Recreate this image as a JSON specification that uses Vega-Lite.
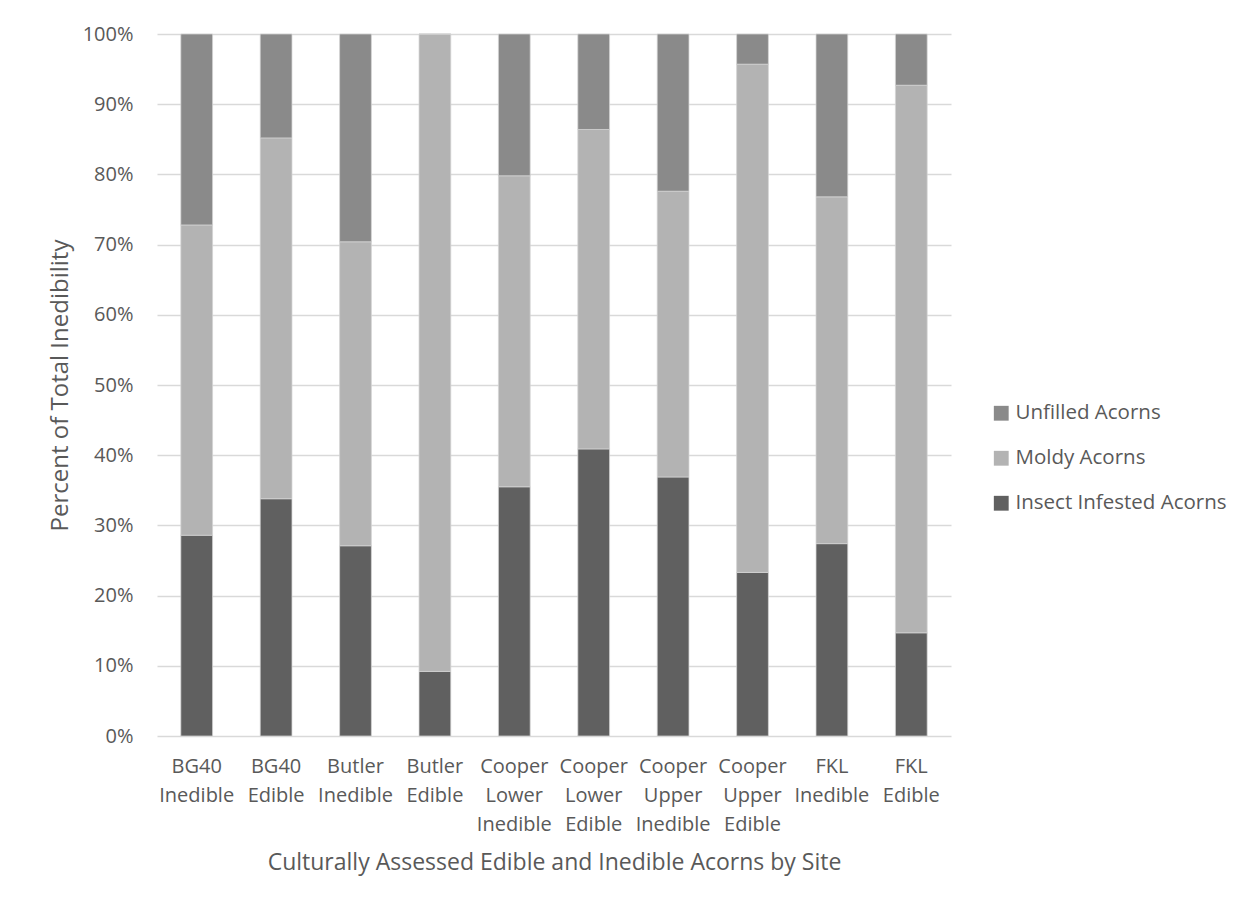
{
  "$schema": "https://vega.github.io/schema/vega-lite/v6.json",
  "autosize": {"type": "none"},
  "width": 794,
  "height": 702,
  "padding": {"left": 157, "top": 34, "right": 302, "bottom": 176},
  "background": "#ffffff",
  "config": {
    "font": "Open Sans",
    "view": {"stroke": null},
    "axis": {"labelFont": "Open Sans", "titleFont": "Open Sans", "labelColor": "#595959", "titleColor": "#595959", "titleFontWeight": "normal", "labelFontSize": 20, "titleFontSize": 23},
    "legend": {"labelFont": "Open Sans", "labelColor": "#595959", "labelFontSize": 20}
  },
  "data": {
    "values": [
      {"site": "BG40 Inedible", "type": "Insect Infested Acorns", "pct": 28.6},
      {"site": "BG40 Inedible", "type": "Moldy Acorns", "pct": 44.2},
      {"site": "BG40 Inedible", "type": "Unfilled Acorns", "pct": 27.2},
      {"site": "BG40 Edible", "type": "Insect Infested Acorns", "pct": 33.8},
      {"site": "BG40 Edible", "type": "Moldy Acorns", "pct": 51.4},
      {"site": "BG40 Edible", "type": "Unfilled Acorns", "pct": 14.8},
      {"site": "Butler Inedible", "type": "Insect Infested Acorns", "pct": 27.1},
      {"site": "Butler Inedible", "type": "Moldy Acorns", "pct": 43.3},
      {"site": "Butler Inedible", "type": "Unfilled Acorns", "pct": 29.6},
      {"site": "Butler Edible", "type": "Insect Infested Acorns", "pct": 9.2},
      {"site": "Butler Edible", "type": "Moldy Acorns", "pct": 90.8},
      {"site": "Butler Edible", "type": "Unfilled Acorns", "pct": 0},
      {"site": "Cooper Lower Inedible", "type": "Insect Infested Acorns", "pct": 35.5},
      {"site": "Cooper Lower Inedible", "type": "Moldy Acorns", "pct": 44.3},
      {"site": "Cooper Lower Inedible", "type": "Unfilled Acorns", "pct": 20.2},
      {"site": "Cooper Lower Edible", "type": "Insect Infested Acorns", "pct": 40.9},
      {"site": "Cooper Lower Edible", "type": "Moldy Acorns", "pct": 45.5},
      {"site": "Cooper Lower Edible", "type": "Unfilled Acorns", "pct": 13.6},
      {"site": "Cooper Upper Inedible", "type": "Insect Infested Acorns", "pct": 36.9},
      {"site": "Cooper Upper Inedible", "type": "Moldy Acorns", "pct": 40.7},
      {"site": "Cooper Upper Inedible", "type": "Unfilled Acorns", "pct": 22.4},
      {"site": "Cooper Upper Edible", "type": "Insect Infested Acorns", "pct": 23.3},
      {"site": "Cooper Upper Edible", "type": "Moldy Acorns", "pct": 72.4},
      {"site": "Cooper Upper Edible", "type": "Unfilled Acorns", "pct": 4.3},
      {"site": "FKL Inedible", "type": "Insect Infested Acorns", "pct": 27.4},
      {"site": "FKL Inedible", "type": "Moldy Acorns", "pct": 49.4},
      {"site": "FKL Inedible", "type": "Unfilled Acorns", "pct": 23.2},
      {"site": "FKL Edible", "type": "Insect Infested Acorns", "pct": 14.7},
      {"site": "FKL Edible", "type": "Moldy Acorns", "pct": 78.0},
      {"site": "FKL Edible", "type": "Unfilled Acorns", "pct": 7.3}
    ]
  },
  "mark": {"type": "bar", "stroke": "#d4d4d4", "strokeWidth": 0.75},
  "encoding": {
    "x": {
      "field": "site",
      "type": "nominal",
      "sort": null,
      "scale": {"paddingInner": 0.6, "paddingOuter": 0.3},
      "axis": {
        "title": "Culturally Assessed Edible and Inedible Acorns by Site",
        "titleFontSize": 23,
        "labelAngle": 0,
        "labelExpr": "split(datum.label, ' ')",
        "labelLineHeight": 29,
        "labelPadding": 20,
        "titlePadding": 17,
        "ticks": false,
        "domain": false,
        "labelBaseline": "top"
      }
    },
    "y": {
      "field": "pct",
      "type": "quantitative",
      "stack": "zero",
      "scale": {"domain": [0, 100], "nice": false},
      "axis": {
        "title": "Percent of Total Inedibility",
        "titleFontSize": 24,
        "values": [0, 10, 20, 30, 40, 50, 60, 70, 80, 90, 100],
        "labelExpr": "datum.value + '%'",
        "labelPadding": 24,
        "titlePadding": 10,
        "ticks": false,
        "domain": false,
        "grid": true,
        "gridColor": "#d9d9d9",
        "gridWidth": 1.5
      }
    },
    "color": {
      "field": "type",
      "type": "nominal",
      "scale": {
        "domain": ["Unfilled Acorns", "Moldy Acorns", "Insect Infested Acorns"],
        "range": ["#8a8a8a", "#b3b3b3", "#606060"]
      },
      "legend": {
        "title": null,
        "orient": "none",
        "legendX": 834,
        "legendY": 369,
        "symbolType": "square",
        "symbolSize": 220,
        "symbolStrokeWidth": 0,
        "labelOffset": 4,
        "labelFontSize": 20.5,
        "labelLimit": 400,
        "rowPadding": 24
      }
    },
    "order": {"field": "type", "sort": "ascending"}
  }
}
